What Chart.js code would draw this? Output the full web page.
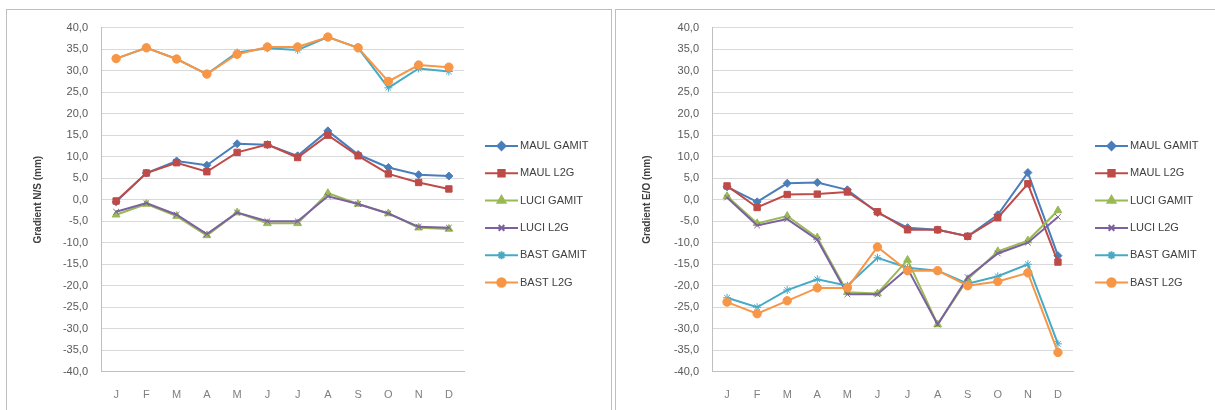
<!DOCTYPE html>
<html lang="fr">
<head>
    <meta charset="UTF-8">
    <title>Gradients N/S et E/O</title>
    <style>
        body {
            margin: 0;
            padding: 0;
            background: #ffffff;
            font-family: "Liberation Sans", Arial, sans-serif;
        }
        .panel {
            position: absolute;
            top: 9px;
            height: 410px;
            background: #ffffff;
            border: 1px solid #bfbfbf;
            box-sizing: border-box;
            overflow: hidden;
        }
        #panel-ns { left: 6px; width: 606px; }
        #panel-eo { left: 615px; width: 610px; }
        canvas { display: block; margin-top: -2px; }
    </style>
</head>
<body>
    <div class="panel" id="panel-ns"><canvas id="chart-ns" width="604" height="402"></canvas></div>
    <div class="panel" id="panel-eo"><canvas id="chart-eo" width="600" height="402"></canvas></div>

    <script src="https://cdn.jsdelivr.net/npm/chart.js"></script>
    <script>
// données
const months = ['J', 'F', 'M', 'A', 'M', 'J', 'J', 'A', 'S', 'O', 'N', 'D'];
const seriesNames = ['MAUL GAMIT', 'MAUL L2G', 'LUCI GAMIT', 'LUCI L2G', 'BAST GAMIT', 'BAST L2G'];
const yTicks = [-40, -35, -30, -25, -20, -15, -10, -5, 0, 5, 10, 15, 20, 25, 30, 35, 40];

// Gradient N/S (mm)
const nsMaulGamit = [-0.5, 6.2, 9.0, 8.0, 13.0, 12.8, 10.2, 16.0, 10.5, 7.5, 5.8, 5.5];
const nsMaulL2G   = [-0.3, 6.2, 8.6, 6.5, 11.0, 12.8, 9.8, 15.0, 10.2, 6.0, 4.0, 2.5];
const nsLuciGamit = [-3.5, -1.0, -3.8, -8.3, -3.0, -5.5, -5.5, 1.5, -1.0, -3.2, -6.5, -6.8];
const nsLuciL2G   = [-2.8, -0.8, -3.5, -8.0, -3.0, -5.0, -5.0, 0.8, -1.0, -3.2, -6.3, -6.5];
const nsBastGamit = [32.8, 35.3, 32.7, 29.2, 34.2, 35.2, 34.8, 37.8, 35.3, 26.0, 30.5, 29.8];
const nsBastL2G   = [32.8, 35.3, 32.7, 29.2, 33.8, 35.5, 35.5, 37.8, 35.3, 27.5, 31.3, 30.8];

// Gradient E/O (mm)
const eoMaulGamit = [3.0, -0.5, 3.8, 4.0, 2.3, -3.0, -6.5, -7.0, -8.5, -3.5, 6.3, -13.0];
const eoMaulL2G   = [3.2, -1.8, 1.2, 1.3, 1.8, -2.8, -7.0, -7.0, -8.5, -4.2, 3.7, -14.5];
const eoLuciGamit = [0.8, -5.5, -3.8, -8.8, -21.5, -21.8, -14.0, -29.0, -18.5, -12.0, -9.5, -2.5];
const eoLuciL2G   = [0.5, -6.0, -4.5, -9.3, -22.0, -22.0, -16.0, -29.0, -18.0, -12.5, -10.0, -4.0];
const eoBastGamit = [-22.8, -25.0, -21.0, -18.5, -20.0, -13.5, -15.8, -16.5, -19.5, -17.8, -15.0, -33.5];
const eoBastL2G   = [-23.8, -26.5, -23.5, -20.5, -20.5, -11.0, -16.5, -16.5, -20.0, -19.0, -17.0, -35.5];

const colors = ['#4a7ebb', '#be4b48', '#98b954', '#7d60a0', '#46aac5', '#f79646'];
const markers = ['rectRot', 'rect', 'triangle', 'crossRot', 'star', 'circle'];
const markerSizes = [4, 4.5, 4.5, 4, 4, 4.2];

function makeDatasets(valueLists) {
    return valueLists.map((values, i) => ({
        label: seriesNames[i],
        data: values,
        borderColor: colors[i],
        backgroundColor: colors[i],
        borderWidth: 2,
        pointStyle: markers[i],
        pointRadius: markerSizes[i],
        pointBorderWidth: 1,
        tension: 0,
        order: 6 - i
    }));
}

// légende dessinée à la main : trait + marqueur, comme Excel
const excelLegend = {
    id: 'excelLegend',
    afterDraw(chart, args, opts) {
        const ctx = chart.ctx;
        const x0 = opts.x;
        ctx.save();
        chart.data.datasets.forEach((ds, i) => {
            const y = opts.y + i * 27.3;
            ctx.strokeStyle = ds.borderColor;
            ctx.lineWidth = 2;
            ctx.beginPath();
            ctx.moveTo(x0, y);
            ctx.lineTo(x0 + 33, y);
            ctx.stroke();
            ctx.fillStyle = ds.backgroundColor;
            Chart.helpers.drawPoint(ctx, {
                pointStyle: ds.pointStyle,
                radius: ds.pointRadius,
                borderWidth: 1,
                rotation: 0
            }, x0 + 16.5, y);
            ctx.fillStyle = '#404040';
            ctx.font = '11px "Liberation Sans", Arial, sans-serif';
            ctx.textBaseline = 'middle';
            ctx.textAlign = 'left';
            ctx.fillText(ds.label, x0 + 35, y);
        });
        ctx.restore();
    }
};

function buildChart(id, title, valueLists, padRight, yWidth, legendX) {
    const ctx = document.getElementById(id).getContext('2d');
    return new Chart(ctx, {
        type: 'line',
        data: { labels: months, datasets: makeDatasets(valueLists) },
        plugins: [excelLegend],
        options: {
            responsive: false,
            animation: false,
            layout: { padding: { top: 10, left: 6, right: padRight, bottom: -9 } },
            plugins: {
                legend: { display: false },
                tooltip: { enabled: false },
                excelLegend: { x: legendX, y: 138 }
            },
            scales: {
                x: {
                    offset: true,
                    grid: { display: false, drawTicks: false },
                    border: { display: true, color: '#bfbfbf' },
                    ticks: { color: '#7f7f7f', padding: 17, font: { size: 11 } }
                },
                y: {
                    min: -40,
                    max: 40,
                    afterBuildTicks: (scale) => { scale.ticks = yTicks.map(v => ({ value: v })); },
                    afterFit: (scale) => { scale.width = yWidth; },
                    grid: { color: '#d9d9d9', drawTicks: false },
                    border: { display: true, color: '#bfbfbf' },
                    ticks: {
                        color: '#595959',
                        padding: 13,
                        font: { size: 11 },
                        callback: (v) => v.toFixed(1).replace('.', ',')
                    },
                    title: {
                        display: true,
                        text: title,
                        color: '#404040',
                        font: { size: 10, weight: 'bold' },
                        padding: { top: 19, bottom: 4 }
                    }
                }
            }
        }
    });
}

buildChart('chart-ns', 'Gradient N/S (mm)',
    [nsMaulGamit, nsMaulL2G, nsLuciGamit, nsLuciL2G, nsBastGamit, nsBastL2G], 147, 88, 478);
buildChart('chart-eo', 'Gradient E/O (mm)',
    [eoMaulGamit, eoMaulL2G, eoLuciGamit, eoLuciL2G, eoBastGamit, eoBastL2G], 143, 90, 479);
    </script>
</body>
</html>
